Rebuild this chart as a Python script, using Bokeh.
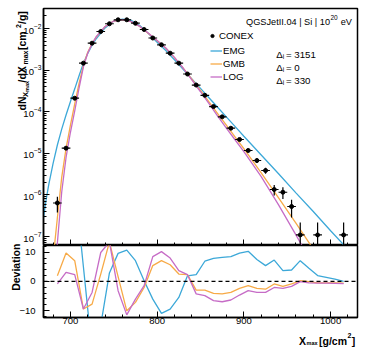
import math
from bokeh.plotting import figure
from bokeh.models import (Range1d, FixedTicker, LogTickFormatter, Label, Legend,
                          LegendItem, Span, CustomJSTickFormatter)
from bokeh.layouts import column
from bokeh.embed import file_html
from bokeh.resources import INLINE

# ---------------- data ----------------
conex_x = [685, 695, 705, 715, 725, 735, 745, 755, 765, 775, 785, 795, 805, 815, 825,
           835, 845, 855, 865, 875, 885, 895, 905, 915, 925, 935, 945, 955, 965, 985, 1015]
conex_y = [6.4e-7, 1.33e-5, 2.11e-4, 1.47e-3, 4.44e-3, 8.47e-3, 1.30e-2, 1.62e-2, 1.62e-2,
           1.34e-2, 9.46e-3, 5.91e-3, 4.06e-3, 2.55e-3, 1.47e-3, 8.06e-4, 4.38e-4, 2.48e-4,
           1.33e-4, 7.54e-5, 4.01e-5, 2.15e-5, 1.17e-5, 6.71e-6, 3.86e-6, 1.35e-6, 1.16e-6,
           5.26e-7, 1.09e-7, 1.09e-7, 1.09e-7]
conex_yerr = [2.6e-7, 1.2e-6, 4.8e-6, 1.3e-5, 2.2e-5, 3.0e-5, 3.8e-5, 4.2e-5, 4.2e-5,
              3.8e-5, 3.2e-5, 2.5e-5, 2.1e-5, 1.7e-5, 1.3e-5, 9.4e-6, 6.9e-6, 5.2e-6,
              3.8e-6, 2.9e-6, 2.1e-6, 1.5e-6, 1.1e-6, 8.6e-7, 6.5e-7, 3.8e-7, 3.6e-7,
              2.4e-7, 1.09e-7, 1.09e-7, 1.09e-7]
bin_half_width = 5

curve_x = [669, 672, 675, 680, 685, 690, 695, 700, 705, 710, 715, 720, 725, 730, 740, 750,
           760, 770, 780, 790, 800, 810, 820, 830, 840, 850, 860, 870, 880, 890, 900, 920,
           940, 960, 980, 1000, 1020, 1031]
emg_log10 = [-6.55, -6.12, -5.76, -5.25, -4.80, -4.42, -4.08, -3.76, -3.45, -3.135, -2.835,
             -2.60, -2.40, -2.24, -1.985, -1.82, -1.775, -1.80, -1.93, -2.12, -2.33, -2.53,
             -2.75, -2.98, -3.21, -3.44, -3.67, -3.90, -4.13, -4.36, -4.59, -5.04, -5.49,
             -5.95, -6.40, -6.86, -7.31, -7.56]
gmb_log10 = [-10.5, -9.6, -8.8, -7.55, -6.55, -5.58, -4.88, -4.33, -3.81, -3.32, -2.89,
             -2.57, -2.36, -2.20, -1.955, -1.82, -1.785, -1.835, -1.95, -2.12, -2.297, -2.475,
             -2.70, -2.953, -3.22, -3.49, -3.77, -4.05, -4.33, -4.61, -4.89, -5.47, -6.07,
             -6.68, -7.30, -7.92, -8.54, -8.88]
log_log10 = [-12.0, -11.0, -10.0, -8.35, -7.15, -5.93, -5.10, -4.50, -3.98, -3.43, -2.92,
             -2.59, -2.365, -2.19, -1.95, -1.82, -1.785, -1.835, -1.95, -2.115, -2.29, -2.47,
             -2.695, -2.95, -3.235, -3.52, -3.81, -4.11, -4.40, -4.68, -4.96, -5.56, -6.24,
             -6.96, -7.70, -8.45, -9.2, -9.6]

dev_x = [685, 695, 705, 715, 725, 735, 745, 755, 765, 775, 785, 795, 805, 815, 825, 835, 845,
         855, 865, 875, 885, 895, 905, 915, 925, 935, 945, 955, 965, 975, 985, 995, 1005, 1015]
dev_emg = [60, 50, 34, 5.0, -24, -15, 2.9, 9.6, 10.7, 7.1, 0.2, -6.1, -11, -9.5, -5.5, 1.9,
           2.3, 6.9, 7.9, 8.2, 8.5, 9.7, 10.3, 7.5, 5.4, 7.3, 3.7, 3.9, 7.1, 4.5, 2.0, 1.4,
           0.8, 0.0]
dev_gmb = [1.9, 9.7, 7.1, -9.5, -7.8, 2.5, 13.5, 1.6, -10.1, -7.2, -2.1, 5.4, 7.1, 5.7, 2.5,
           2.3, -3.0, -3.0, -4.1, -4.3, -3.8, -2.4, -1.5, -2.4, -2.7, -0.9, -1.7, -0.9, 0.2,
           -0.1, -0.5, -0.5, -0.5, -0.6]
dev_log = [-0.9, 3.1, 2.3, -9.5, -3.8, 9.9, 13.5, -3.2, -11.5, -6.1, -1.5, 8.5, 10.2, 8.0,
           3.7, 2.3, -4.3, -4.9, -6.6, -7.0, -6.4, -4.7, -3.2, -3.8, -3.8, -2.1, -2.4, -1.7,
           -0.1, -0.5, -0.6, -0.6, -0.7, -0.8]

model_names = ["EMG", "GMB", "LOG"]
model_delta = ["3151", "0", "330"]
model_colors = ["#3ca8d8", "#f7aa47", "#c66cc6"]

x_major = [700, 800, 900, 1000]
x_minor = list(range(680, 1040, 20))
y_major = [1e-7, 1e-6, 1e-5, 1e-4, 1e-3, 1e-2]
y_minor = [k * 10.0 ** e for e in range(-8, -1) for k in range(2, 10)]
dev_major = [-10, 0, 10]
dev_minor = [-12, -8, -6, -4, -2, 2, 4, 6, 8, 12]

# ---------------- layout constants (page pixels) ----------------
X0, X1 = 669, 1031
LOG_TOP, LOG_BOT = -1.519, -7.216
D_TOP, D_BOT = 12.3, -12.4
FL, FW, FR = 43, 314, 9       # frame left, frame width, right border
TOP_T, TOP_H = 8, 237         # top frame top, height
BOT_H, BOT_B = 72, 34         # bottom frame height, bottom border
PAGE_W, PAGE_H = 366, 351
FONT = "Liberation Sans"
CLR = "black"
TICK_FS = "9.5px"
LEG_FS = 9.7
TITLE_FS = 9.2


def style_axes(p):
    p.outline_line_color = CLR
    p.outline_line_width = 1.5
    p.grid.visible = False
    p.background_fill_color = "white"
    p.border_fill_color = "white"
    for ax in p.axis:
        ax.axis_line_width = 1.5
        ax.axis_line_color = CLR
        ax.major_tick_in = 6
        ax.major_tick_out = 0
        ax.minor_tick_in = 3
        ax.minor_tick_out = 0
        ax.major_tick_line_color = CLR
        ax.minor_tick_line_color = CLR
        ax.major_tick_line_width = 1
        ax.minor_tick_line_width = 1
        ax.major_label_text_font = FONT
        ax.major_label_text_font_size = TICK_FS
        ax.major_label_text_color = CLR


# ---------------- top panel ----------------
p = figure(width=FL + FW + FR, height=TOP_T + TOP_H, y_axis_type="log", output_backend="svg",
           toolbar_location=None, x_range=Range1d(X0, X1),
           y_range=Range1d(10 ** LOG_BOT, 10 ** LOG_TOP),
           min_border_left=FL, min_border_right=FR, min_border_top=TOP_T, min_border_bottom=0)
style_axes(p)
p.xaxis.ticker = FixedTicker(ticks=x_major, minor_ticks=x_minor)
p.xaxis.formatter = CustomJSTickFormatter(code="return ''")
p.xaxis.major_label_standoff = 0
p.yaxis.ticker = FixedTicker(ticks=y_major, minor_ticks=y_minor)
p.yaxis.formatter = LogTickFormatter()
p.yaxis.major_label_standoff = 2

curve_renderers = []
for logs, c in zip([emg_log10, gmb_log10, log_log10], model_colors):
    r = p.line(curve_x, [10 ** v for v in logs], line_color=c, line_width=1.3)
    curve_renderers.append(r)

lower = [max(y - e, 1e-10) for y, e in zip(conex_y, conex_yerr)]
upper = [y + e for y, e in zip(conex_y, conex_yerr)]
p.segment(x0=conex_x, y0=lower, x1=conex_x, y1=upper, line_color=CLR, line_width=1.2)
p.segment(x0=[x - bin_half_width for x in conex_x], y0=conex_y,
          x1=[x + bin_half_width for x in conex_x], y1=conex_y, line_color=CLR, line_width=1.2)
pts = p.scatter(conex_x, conex_y, size=4, marker="circle", color=CLR)


def make_legend(items, loc, gw, standoff):
    lg = Legend(items=items, location=loc)
    lg.background_fill_alpha = 0
    lg.border_line_color = None
    lg.padding = 0
    lg.margin = 0
    lg.spacing = 0
    lg.glyph_height = 13
    lg.label_height = 13
    lg.glyph_width = gw
    lg.label_standoff = standoff
    lg.label_text_font = FONT
    lg.label_text_font_size = f"{LEG_FS}px"
    lg.label_text_color = CLR
    return lg


leg_a = make_legend([LegendItem(label="CONEX", renderers=[pts])],
                    (208 - FL, TOP_H - (41.5 - TOP_T)), 8, 3)
leg_b = make_legend([LegendItem(label=n, renderers=[r]) for n, r in zip(model_names, curve_renderers)],
                    (210 - FL, TOP_H - (82.5 - TOP_T)), 12, 1)
p.add_layout(leg_a, "center")
p.add_layout(leg_b, "center")

# ---------------- bottom panel ----------------
q = figure(width=FL + FW + FR, height=BOT_H + BOT_B, output_backend="svg", toolbar_location=None,
           x_range=p.x_range, y_range=Range1d(D_BOT, D_TOP),
           min_border_left=FL, min_border_right=FR, min_border_top=0, min_border_bottom=BOT_B)
style_axes(q)
q.xaxis.ticker = FixedTicker(ticks=x_major, minor_ticks=x_minor)
q.xaxis.major_label_standoff = 0
q.yaxis.ticker = FixedTicker(ticks=dev_major, minor_ticks=dev_minor)
q.yaxis.formatter = CustomJSTickFormatter(
    code="return tick < 0 ? '\\u2212' + Math.abs(tick) : String(tick)")
q.yaxis.major_label_standoff = 8

for devs, c in zip([dev_emg, dev_gmb, dev_log], model_colors):
    q.line(dev_x, devs, line_color=c, line_width=1.3)
q.add_layout(Span(location=0, dimension="width", line_color=CLR, line_width=1.3, line_dash="4 3"))

main = column(p, q, spacing=0)

# ---------------- transparent overlay for free texts (page-pixel coordinates) ----------------
ov = figure(width=PAGE_W, height=PAGE_H, output_backend="svg", toolbar_location=None,
            x_range=Range1d(0, PAGE_W), y_range=Range1d(PAGE_H, 0),
            x_axis_location=None, y_axis_location=None,
            min_border_left=0, min_border_right=0, min_border_top=0, min_border_bottom=0,
            styles={"position": "absolute", "left": "0px", "top": "0px"})
ov.outline_line_color = None
ov.grid.visible = False
ov.background_fill_alpha = 0
ov.border_fill_alpha = 0


def ot(x, y, text, size, bold=False, align="left", baseline="alphabetic", angle=0):
    ov.add_layout(Label(x=x, y=y, text=text, text_font=FONT, text_font_size=f"{size}px",
                        text_font_style="bold" if bold else "normal", text_color=CLR,
                        text_align=align, text_baseline=baseline, angle=angle))


# title
ot(329.5, 21.7, "QGSJetII.04 | Si | 10", TITLE_FS, align="right")
ot(330.0, 17.3, "20", 6.5)
ot(351.5, 21.7, "eV", TITLE_FS, align="right")

# delta labels
for i, d in enumerate(model_delta):
    cy = 50 + 13 * i
    ot(275.7, cy + 3.5, "\u0394", LEG_FS)
    ot(282.2, cy + 6.0, "i", 6.5)
    ot(285.5, cy + 3.5, "= " + d, LEG_FS)

# y axis title (rotated)
R = math.pi / 2
for py, px, txt, sz in [(110, 21.5, "dN", 10.5), (96.5, 24.5, "X", 7.5), (91.5, 26.5, "max", 5.5),
                        (82, 21.5, "/dX", 10.5), (64.0, 24.5, "max", 7), (49.5, 21.5, " [cm", 10.5),
                        (27.5, 17.5, "2", 7), (23.5, 21.5, "/g]", 10.5)]:
    ot(px, py, txt, sz, bold=True, angle=R)

ot(15, 266.7, "Deviation", 10.5, bold=True, align="center", angle=R)

# x axis title
ot(298.5, 340, "X", 10.5, bold=True)
ot(306.0, 342.5, "max", 5.5, bold=True)
ot(318.5, 340, "[g/cm", 10.5, bold=True)
ot(347.0, 335.0, "2", 7, bold=True)
ot(351.3, 340, "]", 10.5, bold=True)

open("out.html", "w").write(file_html([main, ov], INLINE))
